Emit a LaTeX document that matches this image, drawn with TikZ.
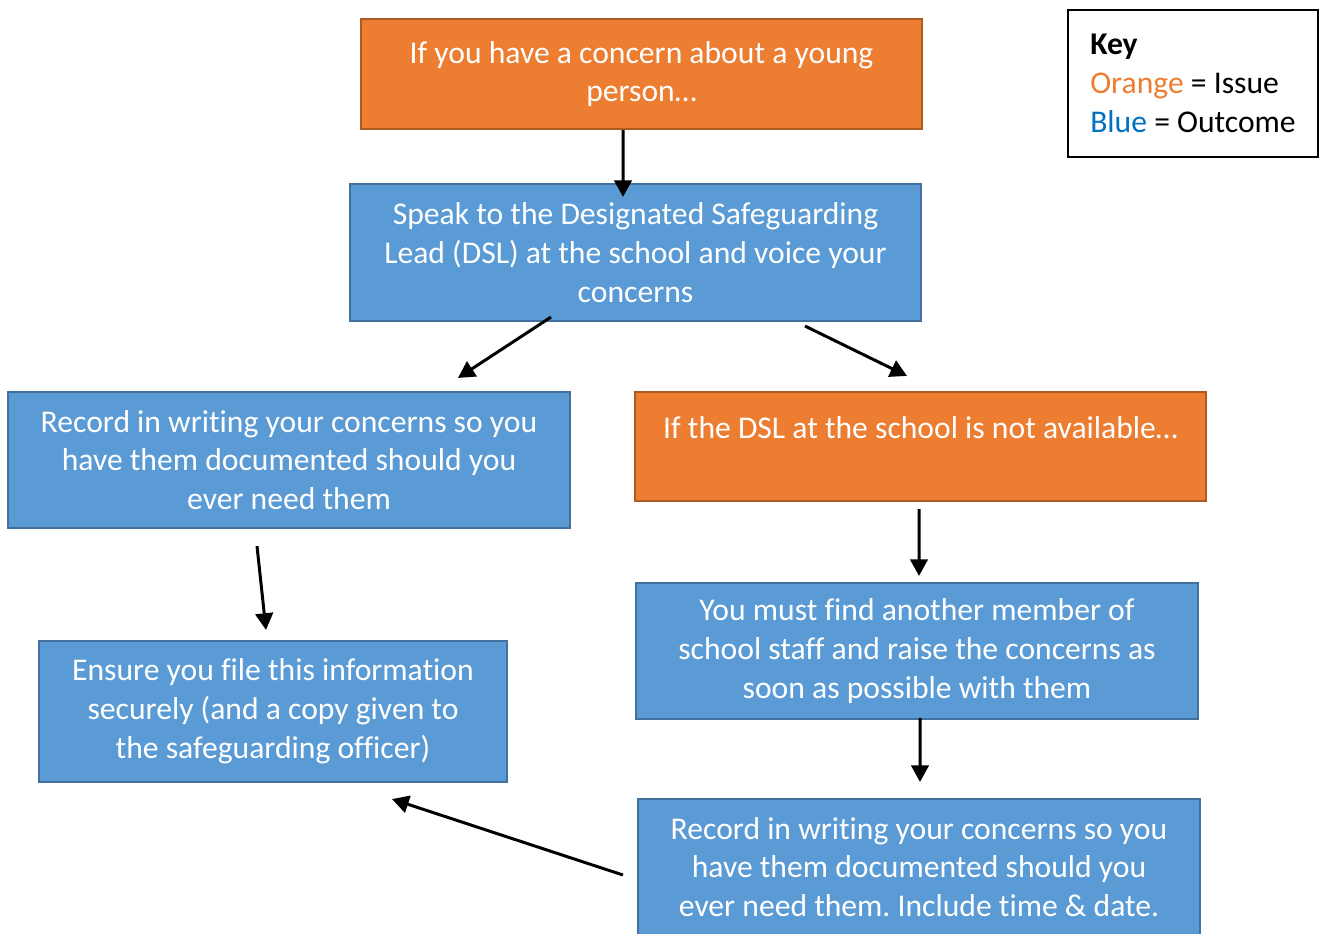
\documentclass[tikz,border=0pt]{standalone}
\usepackage{fontspec}
\setmainfont{Carlito}[Ligatures=NoCommon]
\usetikzlibrary{arrows.meta}
\frenchspacing

\definecolor{issue}{HTML}{ED7D31}
\definecolor{issueline}{HTML}{AE5A21}
\definecolor{outcome}{HTML}{5B9BD5}
\definecolor{outcomeline}{HTML}{41719C}
\definecolor{keyblue}{HTML}{0070C0}

\tikzset{
  box/.style={draw, line width=1.2pt, text=white, align=center,
    font=\fontsize{18}{22.1}\selectfont, inner sep=0pt},
  issuebox/.style={box, fill=issue, draw=issueline},
  outcomebox/.style={box, fill=outcome, draw=outcomeline},
  flow/.style={-{Triangle[length=9.5pt,width=10pt]}, line width=1.7pt}
}

\begin{document}
\begin{tikzpicture}
  \useasboundingbox (0,0) rectangle (26.38,-18.68);

  \node[issuebox, minimum width=11.22cm, minimum height=2.2cm] (concern) at (12.83,-1.48)
    {If you have a concern about a young\\person…};
  \node[outcomebox, minimum width=11.42cm, minimum height=2.74cm] (dsl) at (12.71,-5.05)
    {Speak to the Designated Safeguarding\\Lead (DSL) at the school and voice your\\concerns};
  \node[outcomebox, minimum width=11.24cm, minimum height=2.72cm] (record) at (5.78,-9.2)
    {Record in writing your concerns so you\\have them documented should you\\ever need them};
  \node[issuebox, minimum width=11.42cm, minimum height=2.18cm] (notavail) at (18.41,-8.93)
    {If the DSL at the school is not available…\\~};
  \node[outcomebox, minimum width=9.36cm, minimum height=2.82cm] (file) at (5.46,-14.23)
    {Ensure you file this information\\securely (and a copy given to\\the safeguarding officer)};
  \node[outcomebox, minimum width=11.24cm, minimum height=2.72cm] (findstaff) at (18.34,-13.02)
    {You must find another member of\\school staff and raise the concerns as\\soon as possible with them};
  \node[outcomebox, minimum width=11.24cm, minimum height=2.72cm] (recordtime) at (18.38,-17.34)
    {Record in writing your concerns so you\\have them documented should you\\ever need them. Include time \& date.};

  % key
  \node[draw, line width=1.2pt, minimum width=5cm, minimum height=2.94cm, align=left,
    font=\fontsize{18}{22.1}\selectfont] (key) at (23.86,-1.67)
    {\textbf{Key}\\\textcolor{issue}{Orange} = Issue\\\textcolor{keyblue}{Blue} = Outcome};

  \draw[flow] ([xshift=-0.37cm]concern.south) -- ([xshift=-0.25cm,yshift=-0.28cm]dsl.north);
  \draw[flow] ([xshift=-1.69cm,yshift=0.1cm]dsl.south) -- ([xshift=3.38cm,yshift=0.26cm]record.north);
  \draw[flow] ([xshift=3.39cm,yshift=-0.08cm]dsl.south) -- ([xshift=-0.27cm,yshift=0.3cm]notavail.north);
  \draw[flow] ([xshift=-0.03cm,yshift=-0.14cm]notavail.south) -- ([xshift=0.04cm,yshift=0.12cm]findstaff.north);
  \draw[flow] ([xshift=-0.64cm,yshift=-0.34cm]record.south) -- ([xshift=-0.14cm,yshift=0.2cm]file.north);
  \draw[flow] ([xshift=0.06cm,yshift=0.04cm]findstaff.south) -- ([xshift=0.02cm,yshift=0.32cm]recordtime.north);
  \draw[flow] ([xshift=-0.28cm,yshift=-0.16cm]recordtime.west) -- ([xshift=2.38cm,yshift=-0.32cm]file.south);
\end{tikzpicture}
\end{document}
